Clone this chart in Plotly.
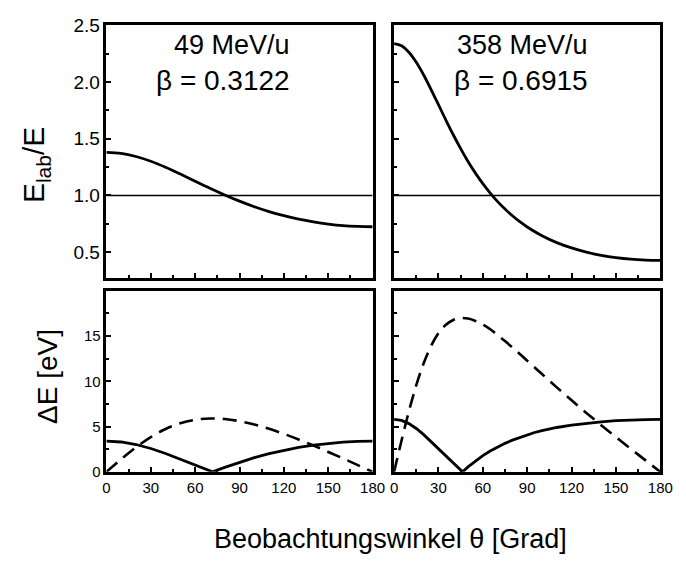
import plotly.graph_objects as go

# Observation angle grids (degrees)
theta_l = [0, 10, 20, 30, 40, 50, 60, 70, 80, 90, 100, 110, 120, 130, 140, 150, 160, 170, 180]
theta_r = [0, 5, 10, 15, 20, 25, 30, 35, 40, 45, 50, 55, 60, 65, 70, 75, 80, 85, 90,
           100, 110, 120, 130, 140, 150, 160, 170, 180]

# E_lab/E, 49 MeV/u (beta = 0.3122)
ratio_l = [1.381, 1.372, 1.344, 1.302, 1.249, 1.189, 1.126, 1.064, 1.005, 0.950,
           0.901, 0.858, 0.822, 0.791, 0.767, 0.748, 0.734, 0.727, 0.724]
# E_lab/E, 358 MeV/u (beta = 0.6915)
ratio_r = [2.341, 2.322, 2.264, 2.175, 2.063, 1.935, 1.801, 1.666, 1.536, 1.414,
           1.300, 1.197, 1.104, 1.021, 0.946, 0.880, 0.821, 0.769, 0.722,
           0.645, 0.584, 0.537, 0.500, 0.472, 0.452, 0.438, 0.430, 0.427]

# Delta E [eV], solid curves (zero at cos(theta) = beta)
theta_sl = [0, 10, 20, 30, 40, 50, 60, 70, 71.8, 80, 90, 100, 110, 120, 130, 140, 150, 160, 170, 180]
solid_l = [3.40, 3.30, 3.02, 2.58, 2.03, 1.41, 0.76, 0.11, 0.0, 0.50, 1.06, 1.57,
           2.01, 2.39, 2.70, 2.96, 3.15, 3.29, 3.37, 3.40]
theta_sr = [0, 5, 10, 15, 20, 25, 30, 35, 40, 45, 46.3, 50, 55, 60, 65, 70, 75, 80, 85, 90,
            95, 100, 110, 120, 130, 140, 150, 160, 170, 180]
solid_r = [5.80, 5.68, 5.33, 4.79, 4.11, 3.34, 2.52, 1.71, 0.92, 0.18, 0.0, 0.55, 1.20,
           1.80, 2.30, 2.75, 3.15, 3.50, 3.80, 4.10, 4.35, 4.55, 4.90, 5.15, 5.37,
           5.53, 5.65, 5.73, 5.78, 5.80]

# Delta E [eV], dashed curves
dashed_l = [0.0, 1.40, 2.71, 3.84, 4.73, 5.37, 5.75, 5.89, 5.83, 5.60, 5.23, 4.75,
            4.19, 3.57, 2.91, 2.20, 1.48, 0.74, 0.0]
dashed_r = [0.0, 3.44, 6.68, 9.57, 11.99, 13.90, 15.31, 16.25, 16.78, 16.99, 16.93,
            16.67, 16.26, 15.75, 15.11, 14.45, 13.74, 13.02, 12.28, 10.80, 9.33,
            7.90, 6.51, 5.16, 3.84, 2.55, 1.27, 0.0]

unity_x = [0, 180]
unity_y = [1, 1]

labels_top = [("49 MeV/u", "β = 0.3122"), ("358 MeV/u", "β = 0.6915")]

FONT = "Liberation Sans, Arial, Helvetica, sans-serif"
W, H = 686, 567

fig = go.Figure()

# Panel placement in pixels: columns (left, right), rows (top, bottom)
cols = [(105, 378), (400, 673)]
rows = [(16, 277), (290, 477)]

def px_x(a, b):
    return [a / W, b / W]

def px_y(top, bot):
    return [1 - bot / H, 1 - top / H]

axis_ids = {(0, 0): "", (0, 1): "2", (1, 0): "3", (1, 1): "4"}

curve = dict(color="black", width=2.8)
dash_curve = dict(color="black", width=2.6, dash="14px,8px")

# Top row: E_lab/E
for c, (th, rv) in enumerate([(theta_l, ratio_l), (theta_r, ratio_r)]):
    n = axis_ids[(0, c)]
    fig.add_trace(go.Scatter(x=unity_x, y=unity_y, mode="lines",
                             line=dict(color="black", width=1.5),
                             xaxis="x" + n, yaxis="y" + n, showlegend=False))
    fig.add_trace(go.Scatter(x=th, y=rv, mode="lines", line=dict(shape="spline", **curve),
                             xaxis="x" + n, yaxis="y" + n, showlegend=False))

# Bottom row: Delta E
for c, (ts, sv, td, dv) in enumerate([(theta_sl, solid_l, theta_l, dashed_l),
                                       (theta_sr, solid_r, theta_r, dashed_r)]):
    n = axis_ids[(1, c)]
    fig.add_trace(go.Scatter(x=ts, y=sv, mode="lines", line=curve,
                             xaxis="x" + n, yaxis="y" + n, showlegend=False))
    fig.add_trace(go.Scatter(x=td, y=dv, mode="lines", line=dict(shape="spline", **dash_curve),
                             xaxis="x" + n, yaxis="y" + n, showlegend=False))

layout = dict(width=W, height=H, margin=dict(l=0, r=0, t=0, b=0),
              paper_bgcolor="white", plot_bgcolor="white",
              font=dict(family=FONT, color="black"))

for (r, c), n in axis_ids.items():
    xkey = "xaxis" + n
    ykey = "yaxis" + n
    layout[xkey] = dict(
        domain=px_x(*cols[c]), anchor="y" + n, range=[0, 180],
        showline=True, mirror=True, linecolor="black", linewidth=2.5,
        ticks="inside", ticklen=5, tickwidth=1.8, tickcolor="black",
        tickmode="array", tickvals=[0, 30, 60, 90, 120, 150, 180],
        ticktext=["0", "30", "60", "90", "120", "150", "180"],
        showticklabels=(r == 1), tickfont=dict(size=15),
        minor=dict(ticks="inside", ticklen=3, tickwidth=1.5, tickcolor="black", dtick=15),
        showgrid=False, zeroline=False, fixedrange=True,
    )
    if r == 0:
        layout[ykey] = dict(
            domain=px_y(*rows[0]), anchor="x" + n, range=[0.27, 2.5],
            tickmode="array", tickvals=[0.5, 1.0, 1.5, 2.0, 2.5],
            ticktext=["0.5", "1.0", "1.5", "2.0", "2.5"],
            minor=dict(ticks="inside", ticklen=3, tickwidth=1.5, tickcolor="black",
                       tickvals=[0.25, 0.75, 1.25, 1.75, 2.25]),
            tickfont=dict(size=19),
        )
    else:
        layout[ykey] = dict(
            domain=px_y(*rows[1]), anchor="x" + n, range=[0, 20],
            tickmode="array", tickvals=[0, 5, 10, 15],
            ticktext=["0", "5", "10", "15"],
            minor=dict(ticks="inside", ticklen=3, tickwidth=1.5, tickcolor="black",
                       tickvals=[2.5, 7.5, 12.5, 17.5]),
            tickfont=dict(size=15),
        )
    layout[ykey].update(
        showline=True, mirror=True, linecolor="black", linewidth=2.5,
        ticks="inside", ticklen=5, tickwidth=1.8, tickcolor="black",
        showticklabels=(c == 0), showgrid=False, zeroline=False, fixedrange=True,
    )

fig.update_layout(**layout)

ann = []
for c, (e_txt, b_txt) in enumerate(labels_top):
    cx = [234, 532][c]
    bx = [225, 530][c]
    ann.append(dict(text=e_txt, x=cx / W, y=1 - 36 / H, xref="paper", yref="paper",
                    showarrow=False, font=dict(size=27), xanchor="center", yanchor="middle"))
    ann.append(dict(text=b_txt, x=bx / W, y=1 - 73 / H, xref="paper", yref="paper",
                    showarrow=False, font=dict(size=28), xanchor="center", yanchor="middle"))

ann.append(dict(text="E<sub>lab</sub>/E", x=33 / W, y=1 - 160 / H, xref="paper", yref="paper",
                showarrow=False, textangle=-90, font=dict(size=30),
                xanchor="center", yanchor="middle"))
ann.append(dict(text="ΔE [eV]", x=44 / W, y=1 - 378 / H, xref="paper", yref="paper",
                showarrow=False, textangle=-90, font=dict(size=28),
                xanchor="center", yanchor="middle"))
ann.append(dict(text="Beobachtungswinkel θ [Grad]", x=396 / W, y=1 - 546 / H,
                xref="paper", yref="paper", showarrow=False, font=dict(size=27),
                xanchor="center", yanchor="middle"))
fig.update_layout(annotations=ann)

fig.write_html("out.html")
